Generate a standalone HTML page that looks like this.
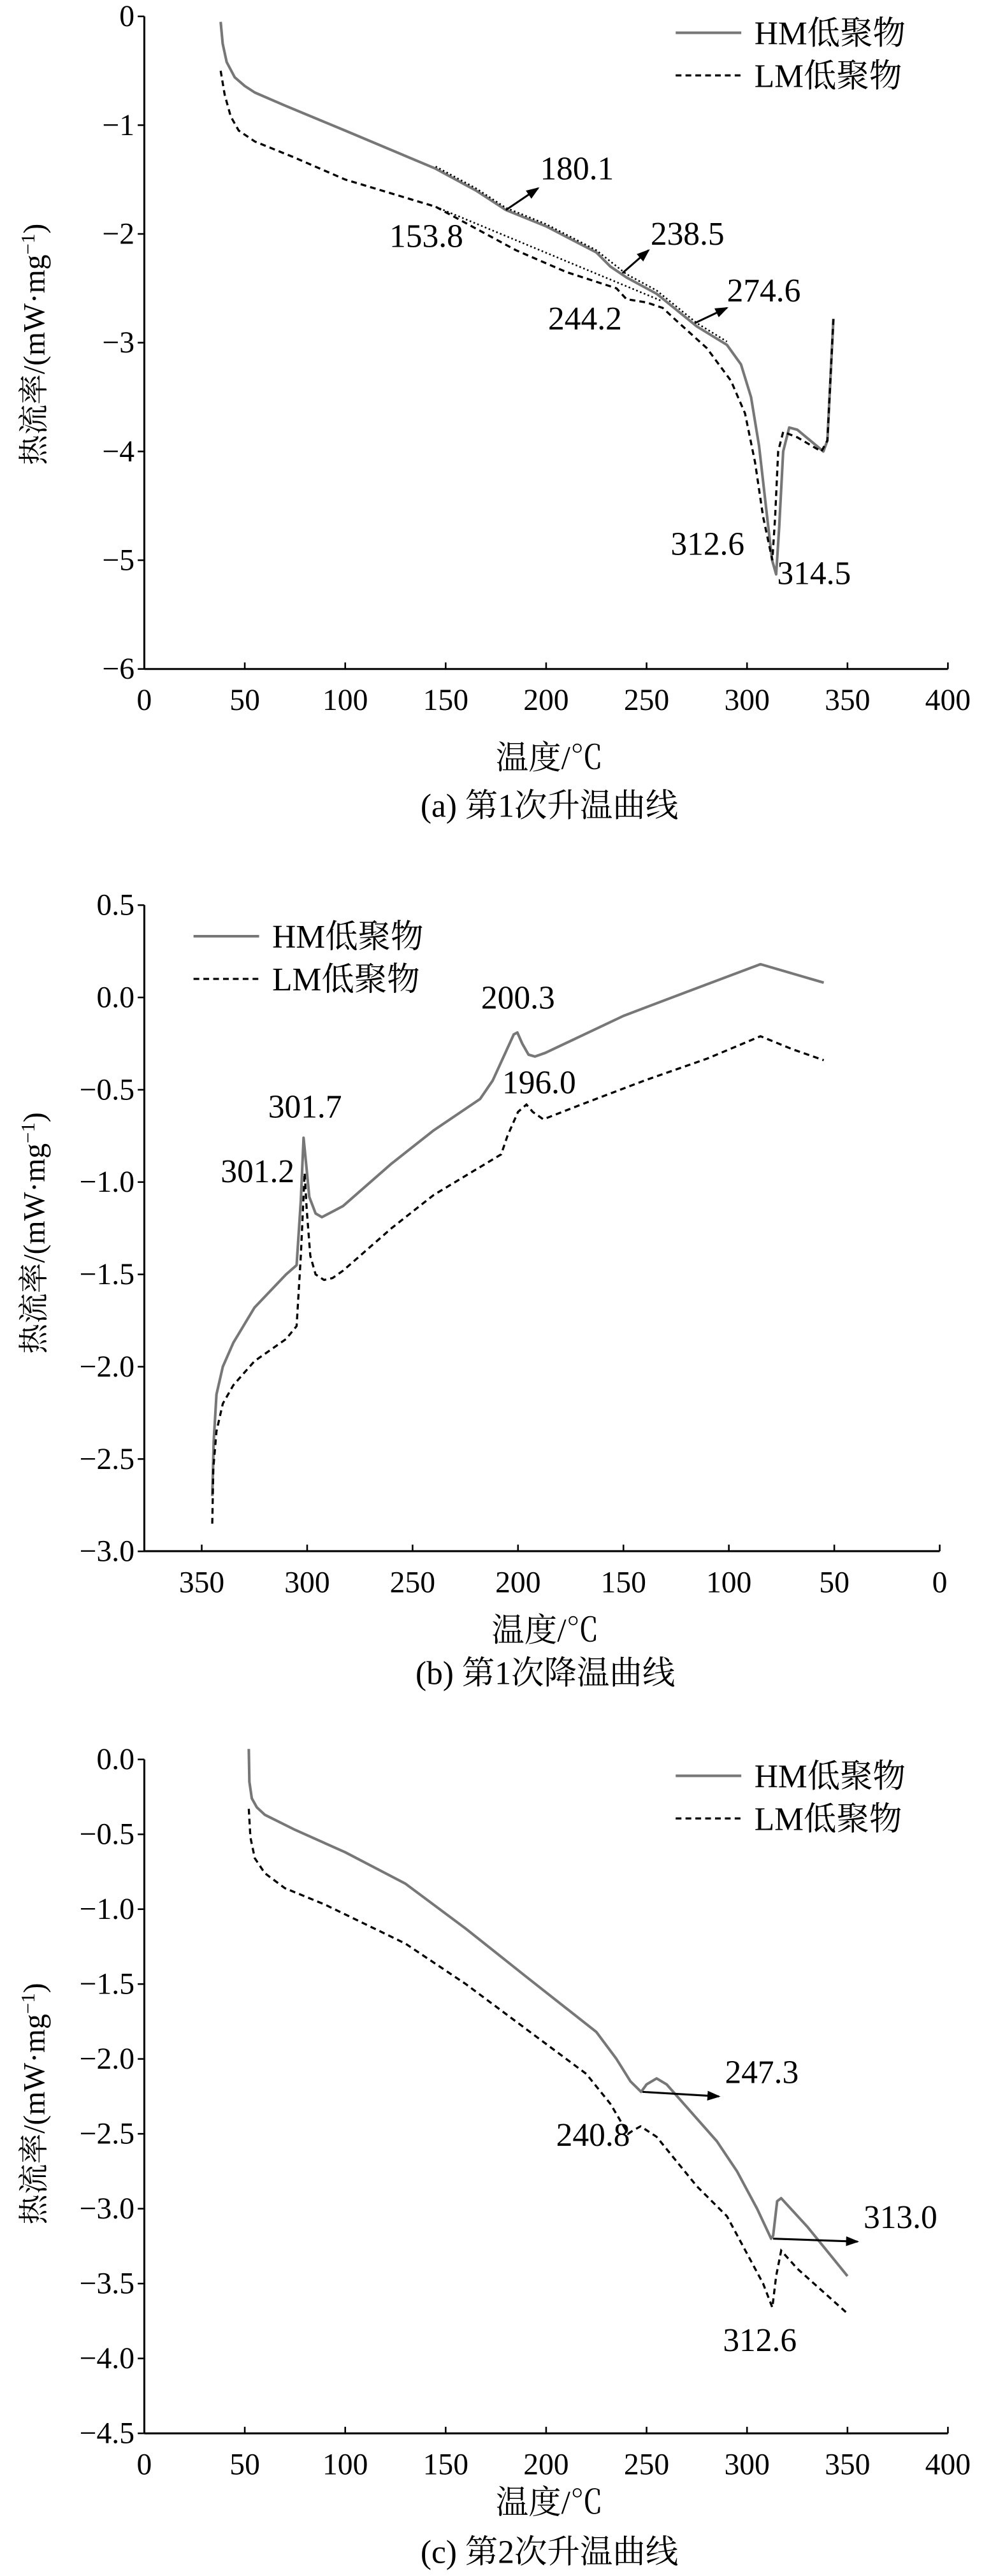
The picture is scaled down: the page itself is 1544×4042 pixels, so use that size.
<!DOCTYPE html>
<html><head><meta charset="utf-8"><style>html,body{margin:0;padding:0;background:#fff}svg{display:block}text{font-family:"Liberation Serif","Noto Serif CJK SC","Noto Sans CJK SC",serif;fill:#000}</style></head>
<body>
<svg id="s" width="1544" height="4042" viewBox="0 0 600 1571" preserveAspectRatio="none" xmlns="http://www.w3.org/2000/svg">
<defs><marker id="ar" markerWidth="8" markerHeight="6" refX="7" refY="3" orient="auto" markerUnits="userSpaceOnUse"><path d="M0,0 L8,3 L0,6 z" fill="#000"/></marker></defs>
</svg>
<script>
var s=document.getElementById('s'),NS='http://www.w3.org/2000/svg',FS=18.5,LF=20;
function el(t,a,txt){var e=document.createElementNS(NS,t);for(var k in a)e.setAttribute(k,a[k]);if(txt!=null)e.textContent=txt;s.appendChild(e);return e;}
function line(x1,y1,x2,y2,w,extra){var a={x1:x1,y1:y1,x2:x2,y2:y2,stroke:'#000','stroke-width':w||1.2};for(var k in extra)a[k]=extra[k];el('line',a);}
function txt(x,y,t,size,anchor,extra){var a={x:x,y:y,'font-size':size||FS,'text-anchor':anchor||'start'};for(var k in extra)a[k]=extra[k];el('text',a,t);}
function chart(c){
 var X=c.X,Y=c.Y;
 line(c.ax,c.top,c.ax,c.bot,1.2);line(c.ax,c.bot,c.right,c.bot,1.2);
 c.yt.forEach(function(v){var y=Y(v);line(c.ax-4,y,c.ax,y,1);txt(c.ax-6,y+6,c.yf(v),FS,'end');});
 c.xt.forEach(function(v){var x=X(v);line(x,c.bot,x,c.bot-4,1);txt(x,c.bot+25,String(v),FS,'middle');});
 txt((c.ax+c.right)/2+2,c.xl,'温度/℃',LF,'middle');
 txt((c.ax+c.right)/2+2,c.cap,c.caption,LF,'middle');
 var cy=c.ylc;var t=el('text',{x:0,y:0,'font-size':FS,'text-anchor':'middle',transform:'translate(27,'+cy+') rotate(-90)'});
 t.textContent='热流率/(mW·mg';var ts=document.createElementNS(NS,'tspan');ts.setAttribute('font-size','12');ts.setAttribute('dy','-6');ts.textContent='−1';t.appendChild(ts);var t2=document.createElementNS(NS,'tspan');t2.setAttribute('dy','6');t2.textContent=')';t.appendChild(t2);
 function pl(d){return d.map(function(p){return X(p[0]).toFixed(2)+','+Y(p[1]).toFixed(2)}).join(' ');}
 el('polyline',{points:pl(c.hm),fill:'none',stroke:'#777','stroke-width':1.6,'stroke-linejoin':'round'});
 el('polyline',{points:pl(c.lm),fill:'none',stroke:'#000','stroke-width':1.3,'stroke-dasharray':'3.5,2.5'});
 (c.dots||[]).forEach(function(d){el('polyline',{points:pl(d),fill:'none',stroke:'#000','stroke-width':1,'stroke-dasharray':'1,1.5'});});
 (c.arrows||[]).forEach(function(a){line(X(a[0]),Y(a[1]),X(a[2]),Y(a[3]),1.2,{'marker-end':'url(#ar)'});});
 (c.labels||[]).forEach(function(l){txt(X(l[0]),Y(l[1]),l[2],LF,l[3]||'start');});
 var lx=c.lg[0],ly=c.lg[1];
 line(lx,ly,lx+40,ly,1.6,{stroke:'#777'});txt(lx+48,ly+7,'HM低聚物',LF);
 line(lx,ly+26,lx+40,ly+26,1.3,{'stroke-dasharray':'3.5,2.5'});txt(lx+48,ly+33,'LM低聚物',LF);
}
// (a)
chart({ax:88,right:578,top:10,bot:408,X:function(t){return 88+t*1.225},Y:function(v){return 10-v*66.33},
 yt:[0,-1,-2,-3,-4,-5,-6],yf:function(v){return v==0?'0':'−'+(-v)},xt:[0,50,100,150,200,250,300,350,400],
 xl:469,cap:498,caption:'(a) 第1次升温曲线',ylc:210,lg:[412,20],
 hm:[[38,-0.05],[39,-0.25],[41,-0.42],[45,-0.56],[50,-0.64],[55,-0.7],[70,-0.82],[100,-1.05],[145,-1.4],[165,-1.6],[180,-1.78],[200,-1.93],[225,-2.17],[232,-2.3],[240,-2.4],[255,-2.55],[275,-2.85],[290,-3.02],[297,-3.2],[302,-3.5],[306,-3.95],[310,-4.6],[312.5,-5.0],[314.5,-5.13],[316,-4.7],[318,-4.0],[321,-3.78],[325,-3.8],[338,-4.0],[340,-3.9],[343,-2.78]],
 lm:[[38,-0.5],[40,-0.72],[43,-0.92],[47,-1.05],[55,-1.15],[75,-1.3],[100,-1.5],[145,-1.75],[165,-1.95],[185,-2.15],[210,-2.35],[235,-2.5],[240,-2.6],[250,-2.63],[258,-2.68],[265,-2.8],[280,-3.05],[292,-3.35],[299,-3.65],[304,-4.1],[308,-4.6],[312.6,-5.0],[314,-4.6],[315.5,-4.0],[318,-3.82],[325,-3.87],[337,-4.0],[340,-3.9],[343,-2.78]],
 dots:[[[145,-1.38],[165,-1.58],[180,-1.76],[200,-1.91],[225,-2.15],[240,-2.37],[255,-2.52],[275,-2.82],[290,-2.99]],[[145,-1.75],[258,-2.62]]],
 arrows:[[180,-1.78,196,-1.58],[238,-2.36,251,-2.15],[274,-2.82,290,-2.68]],
 labels:[[197,-1.5,'180.1'],[122,-2.12,'153.8'],[252,-2.1,'238.5'],[201,-2.88,'244.2'],[290,-2.62,'274.6'],[262,-4.95,'312.6'],[315,-5.22,'314.5']]
});
// (b)
chart({ax:88,right:573,top:552,bot:946,X:function(t){return 573-t*1.2857},Y:function(v){return 608.3-v*112.6},
 yt:[0.5,0,-0.5,-1,-1.5,-2,-2.5,-3],yf:function(v){return (v<0?'−':'')+Math.abs(v).toFixed(1)},xt:[350,300,250,200,150,100,50,0],
 xl:1001,cap:1027,caption:'(b) 第1次降温曲线',ylc:752,lg:[118,571],
 hm:[[345,-2.7],[344.3,-2.4],[343,-2.15],[340,-2.0],[335,-1.87],[325,-1.68],[310,-1.5],[305,-1.45],[303,-1.1],[301.7,-0.76],[300.5,-0.9],[299,-1.08],[296,-1.17],[293,-1.19],[288,-1.16],[283,-1.13],[260,-0.9],[240,-0.72],[218,-0.55],[212,-0.45],[206,-0.3],[202,-0.2],[200.3,-0.19],[198,-0.25],[195,-0.31],[192,-0.32],[187,-0.3],[150,-0.1],[120,0.03],[85,0.18],[70,0.13],[55,0.08]],
 lm:[[345,-2.85],[344.5,-2.55],[343,-2.35],[340,-2.2],[335,-2.1],[325,-1.97],[310,-1.85],[305,-1.78],[303,-1.4],[301.2,-0.95],[300.2,-1.15],[298.5,-1.4],[296,-1.5],[292,-1.53],[288,-1.52],[283,-1.48],[260,-1.25],[240,-1.07],[208,-0.85],[205,-0.75],[200,-0.62],[196,-0.58],[193,-0.62],[188,-0.66],[170,-0.58],[140,-0.45],[110,-0.33],[85,-0.21],[70,-0.28],[55,-0.34]],
 labels:[[301,-0.65,'301.7','middle'],[306,-1.0,'301.2','end'],[200,-0.06,'200.3','middle'],[190,-0.52,'196.0','middle']]
});
// (c)
chart({ax:88,right:578,top:1073,bot:1484,X:function(t){return 88+t*1.225},Y:function(v){return 1073-v*91.33},
 yt:[0,-0.5,-1,-1.5,-2,-2.5,-3,-3.5,-4,-4.5],yf:function(v){return (v<0?'−':'')+Math.abs(v).toFixed(1)},xt:[0,50,100,150,200,250,300,350,400],
 xl:1533,cap:1563,caption:'(c) 第2次升温曲线',ylc:1283,lg:[412,1083],
 hm:[[52,0.07],[52.3,-0.15],[53.5,-0.26],[56,-0.32],[60,-0.37],[75,-0.47],[100,-0.62],[130,-0.83],[160,-1.13],[190,-1.45],[225,-1.82],[235,-2.0],[242,-2.15],[247.3,-2.22],[250,-2.17],[255,-2.13],[260,-2.17],[285,-2.55],[295,-2.75],[305,-3.0],[312,-3.2],[313,-3.18],[315,-2.95],[317,-2.93],[330,-3.12],[350,-3.45]],
 lm:[[52,-0.33],[52.8,-0.52],[55,-0.66],[60,-0.76],[70,-0.86],[90,-0.97],[130,-1.23],[160,-1.5],[190,-1.8],[220,-2.1],[232,-2.3],[240.8,-2.5],[243,-2.48],[247,-2.45],[255,-2.52],[275,-2.85],[290,-3.05],[300,-3.3],[308,-3.5],[312.6,-3.66],[314.5,-3.45],[317,-3.28],[325,-3.4],[350,-3.7]],
 arrows:[[248,-2.22,286,-2.25],[313,-3.2,355,-3.22]],
 labels:[[289,-2.16,'247.3'],[358,-3.13,'313.0'],[205,-2.58,'240.8'],[288,-3.95,'312.6']]
});
</script>
</body></html>
